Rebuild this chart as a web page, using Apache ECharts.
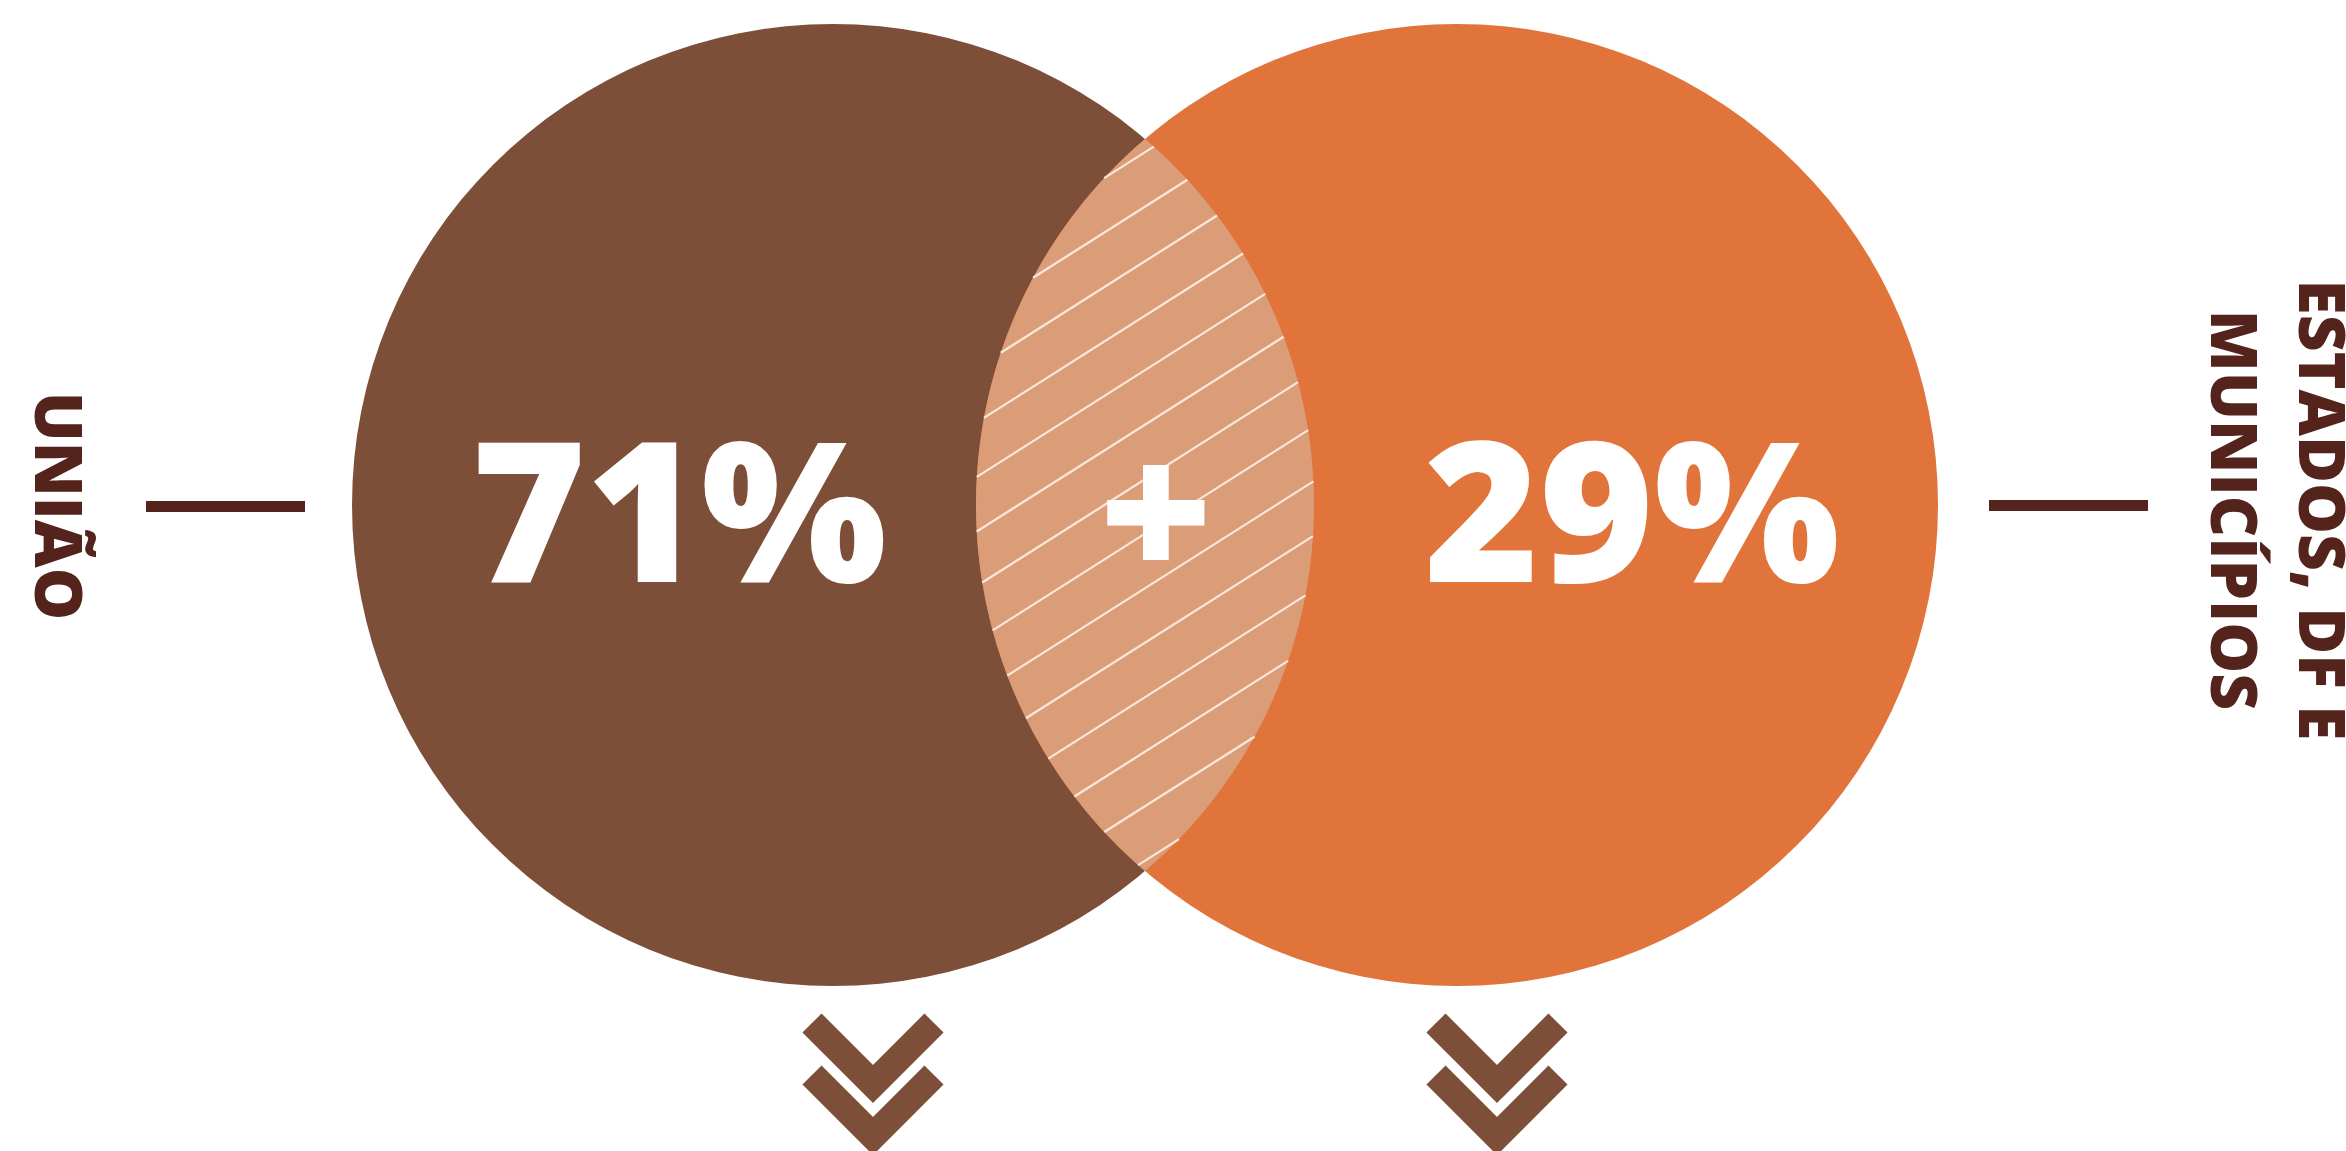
<!DOCTYPE html>
<html>
<head>
<meta charset="utf-8">
<script src="https://cdn.jsdelivr.net/npm/echarts@6/dist/echarts.min.js"></script>
<style>
  html, body { margin: 0; padding: 0; background: #ffffff; }
  #chart { width: 2346px; height: 1151px; }
</style>
</head>
<body>
<div id="chart"></div>
<script>
// ---- data ----
const categories = ['UNIÃO', 'ESTADOS, DF E\nMUNICÍPIOS'];
const shares = [71, 29];
const valueSuffix = '%';
const joinSymbol = '+';

// ---- styles ----
const CIRCLE_COLORS = ['#7D4F39', '#E1743A'];
const LENS_COLOR = '#DB9C78';
const HATCH_COLOR = 'rgba(250, 236, 226, 0.95)';
const DARK = '#53231C';
const FONT = '"Open Sans", "Noto Sans", sans-serif';
const R = 481;             // circle radius in px
const NUM_SIZE = 196;
const TEXT_DY = 21;
const TEXT_DX = [15, 6];
const HATCH_ANGLE = 32.4 * Math.PI / 180;
const HATCH_VSTEP = 54.5;
const HATCH_PHASE = -25.8;
const CHEV_DX = 40;

function chevron(cx, cy, dy) {
  return {
    type: 'polyline',
    shape: { points: [[cx - 61, cy + 518 + dy], [cx, cy + 579 + dy], [cx + 61, cy + 518 + dy]] },
    style: { stroke: CIRCLE_COLORS[0], lineWidth: 27, fill: null, lineJoin: 'miter', lineCap: 'butt' }
  };
}

function renderItem(params, api) {
  const i = params.dataIndex;
  const c = api.coord([i, 0]);
  const o = api.coord([1 - i, 0]);
  const children = [];
  children.push({ type: 'circle', shape: { cx: c[0], cy: c[1], r: R }, style: { fill: CIRCLE_COLORS[i] } });
  const isLeft = c[0] < o[0];
  const tx = (isLeft ? ((c[0] - R) + (o[0] - R)) / 2 : ((c[0] + R) + (o[0] + R)) / 2) + TEXT_DX[i];
  children.push({
    type: 'text', x: tx, y: c[1] + TEXT_DY, z2: 10,
    style: { text: api.value(2) + valueSuffix, fill: '#ffffff', font: '800 ' + NUM_SIZE + 'px ' + FONT, align: 'center', verticalAlign: 'middle' }
  });
  children.push(chevron(c[0] + CHEV_DX, c[1], 0));
  children.push(chevron(c[0] + CHEV_DX, c[1], 52));

  if (!isLeft) {
    const L = o, Rc = c;
    const half = (Rc[0] - L[0]) / 2;
    const th = Math.acos(half / R);
    const pts = [];
    const N = 120;
    for (let k = 0; k <= N; k++) {
      const t = -th + 2 * th * k / N;
      pts.push([L[0] + R * Math.cos(t), L[1] + R * Math.sin(t)]);
    }
    for (let k = 0; k <= N; k++) {
      const t = Math.PI - th + 2 * th * k / N;
      pts.push([Rc[0] + R * Math.cos(t), Rc[1] + R * Math.sin(t)]);
    }
    children.push({ type: 'polygon', shape: { points: pts }, style: { fill: LENS_COLOR } });

    const mx = (L[0] + Rc[0]) / 2, my = (L[1] + Rc[1]) / 2;
    const u = [Math.cos(HATCH_ANGLE), -Math.sin(HATCH_ANGLE)];
    for (let k = -20; k <= 20; k++) {
      const q = [mx, my + HATCH_PHASE + k * HATCH_VSTEP];
      let lo = -Infinity, hi = Infinity, ok = true;
      [L, Rc].forEach(C => {
        const f = [q[0] - C[0], q[1] - C[1]];
        const b = u[0] * f[0] + u[1] * f[1];
        const cc = f[0] * f[0] + f[1] * f[1] - R * R;
        const disc = b * b - cc;
        if (disc <= 0) { ok = false; return; }
        const s = Math.sqrt(disc);
        lo = Math.max(lo, -b - s);
        hi = Math.min(hi, -b + s);
      });
      if (!ok || hi - lo < 2) continue;
      children.push({
        type: 'line',
        shape: { x1: q[0] + lo * u[0], y1: q[1] + lo * u[1], x2: q[0] + hi * u[0], y2: q[1] + hi * u[1] },
        style: { stroke: HATCH_COLOR, lineWidth: 2.2 }
      });
    }
    children.push({
      type: 'text', x: mx + 11, y: my + TEXT_DY, z2: 10,
      style: { text: joinSymbol, fill: '#ffffff', font: '800 ' + NUM_SIZE + 'px ' + FONT, align: 'center', verticalAlign: 'middle' }
    });
  }
  return { type: 'group', children: children };
}

const chart = echarts.init(document.getElementById('chart'), null, { renderer: 'canvas' });
chart.setOption({
  backgroundColor: '#ffffff',
  animation: false,
  grid: { left: 521, width: 1248, top: 5, height: 1000 },
  xAxis: { type: 'category', data: categories, show: false, boundaryGap: true },
  yAxis: { type: 'value', min: -1, max: 1, show: false },
  graphic: [
    { type: 'line', shape: { x1: 146, y1: 506.5, x2: 305, y2: 506.5 }, style: { stroke: DARK, lineWidth: 11 } },
    { type: 'line', shape: { x1: 1989, y1: 505.5, x2: 2148, y2: 505.5 }, style: { stroke: DARK, lineWidth: 11 } },
    { type: 'text', x: 54, y: 506, rotation: -Math.PI / 2,
      style: { text: categories[0], font: '800 66px ' + FONT, fill: DARK, align: 'center', verticalAlign: 'middle' } },
    { type: 'text', x: 2273, y: 510, rotation: -Math.PI / 2,
      style: { text: categories[1], font: '800 64px ' + FONT, lineHeight: 88, fill: DARK, align: 'center', verticalAlign: 'middle' } }
  ],
  series: [{
    type: 'custom',
    renderItem: renderItem,
    data: shares.map((v, i) => [i, 0, v]),
    encode: { x: 0, y: 1 },
    clip: false,
    silent: true
  }]
});
</script>
</body>
</html>
